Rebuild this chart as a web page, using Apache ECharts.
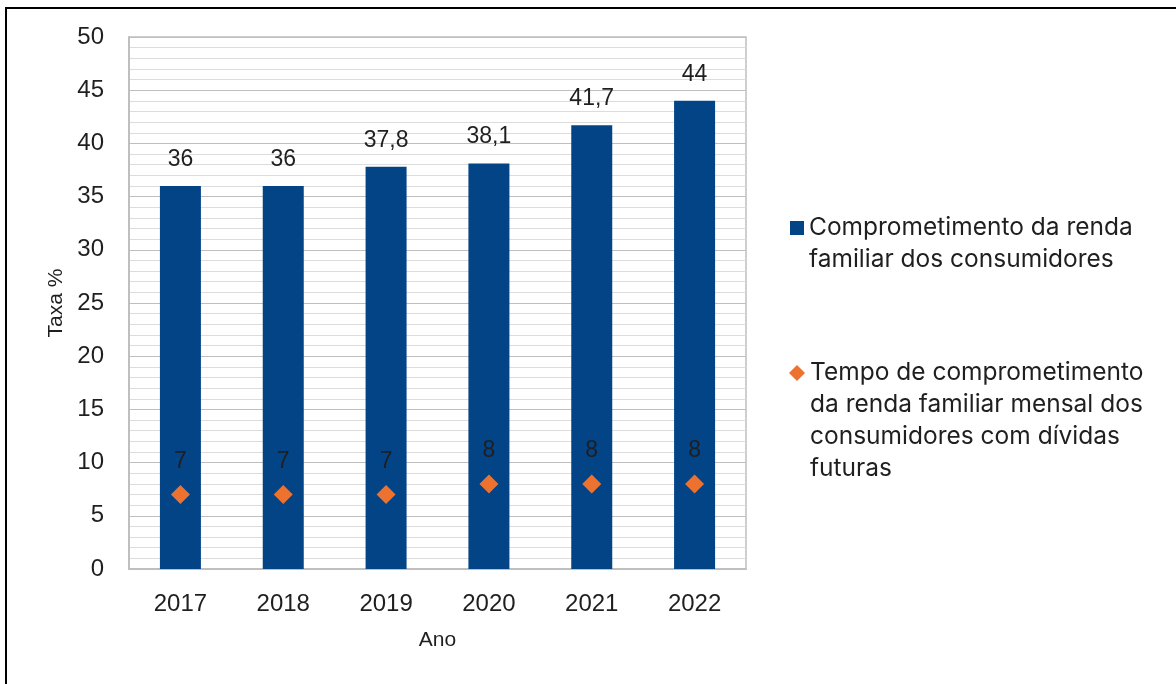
<!DOCTYPE html>
<html>
<head>
<meta charset="utf-8">
<script src="https://cdn.jsdelivr.net/npm/echarts@6/dist/echarts.min.js"></script>
<style>
html,body{margin:0;padding:0;background:#fff;}
#main{width:1176px;height:684px;}
</style>
</head>
<body>
<div id="main"></div>
<script>
// dados
const anos = ['2017', '2018', '2019', '2020', '2021', '2022'];
const renda = [36, 36, 37.8, 38.1, 41.7, 44];
const tempo = [7, 7, 7, 8, 8, 8];
const nomeRenda = 'Comprometimento da renda\nfamiliar dos consumidores';
const nomeTempo = 'Tempo de comprometimento\nda renda familiar mensal dos\nconsumidores com dívidas\nfuturas';

const fonte = '"Liberation Sans", Arial, sans-serif';
const corTexto = '#1f1f1f';
const virgula = v => String(v).replace('.', ',');
// linhas vazias antes do texto para o ícone ficar na primeira linha
const legendaTexto = nome => '\n'.repeat(nome.split('\n').length - 1) + nome;

const myChart = echarts.init(document.getElementById('main'));
myChart.setOption({
  animation: false,
  textStyle: { fontFamily: fonte },
  graphic: [{
    type: 'rect',
    shape: { x: 6, y: 8, width: 1400, height: 1000 },
    style: { fill: 'none', stroke: '#000', lineWidth: 2 }
  }],
  grid: {
    left: 129, right: 430, top: 37, bottom: 115,
    show: true, borderColor: '#bfbfbf', borderWidth: 1.5
  },
  legend: [{
    data: [{ name: nomeRenda, icon: 'rect' }],
    left: 785, top: 175,
    itemWidth: 14, itemHeight: 14,
    formatter: legendaTexto,
    textStyle: { fontFamily: 'Inter, sans-serif', fontSize: 24.5, color: corTexto, lineHeight: 32 }
  }, {
    data: [{ name: nomeTempo, icon: 'diamond' }],
    left: 784, top: 256,
    itemWidth: 16, itemHeight: 16,
    formatter: legendaTexto,
    textStyle: { fontFamily: 'Inter, sans-serif', fontSize: 24.5, color: corTexto, lineHeight: 32 }
  }],
  xAxis: {
    type: 'category',
    data: anos,
    name: 'Ano',
    nameLocation: 'middle',
    nameGap: 61,
    nameTextStyle: { fontSize: 21, color: corTexto },
    axisLine: { lineStyle: { color: '#bfbfbf', width: 2 } },
    axisTick: { show: false },
    axisLabel: { fontSize: 24, color: corTexto, margin: 23 }
  },
  yAxis: {
    type: 'value',
    min: 0, max: 50, interval: 5,
    name: 'Taxa %',
    nameLocation: 'middle',
    nameGap: 61,
    nameTextStyle: { fontSize: 21, color: corTexto },
    axisLine: { show: true, lineStyle: { color: '#bfbfbf', width: 2 } },
    axisTick: { show: false },
    axisLabel: { fontSize: 24, color: corTexto, margin: 25 },
    splitLine: { lineStyle: { color: '#bfbfbf', width: 1.2 } },
    minorSplitLine: { show: true, lineStyle: { color: '#dcdcdc', width: 1.2 } },
    minorTick: { show: false, splitNumber: 5 }
  },
  series: [{
    name: nomeRenda,
    type: 'bar',
    data: renda,
    barWidth: 41,
    itemStyle: { color: '#034487' },
    label: {
      show: true, position: 'top', distance: 15,
      fontSize: 23, color: corTexto,
      formatter: p => virgula(p.value)
    }
  }, {
    name: nomeTempo,
    type: 'scatter',
    data: tempo,
    symbol: 'diamond',
    symbolSize: 19,
    itemStyle: { color: '#ed7230', opacity: 1 },
    label: {
      show: true, position: 'top', distance: 12,
      fontSize: 23, color: corTexto,
      formatter: p => virgula(p.value)
    }
  }]
});
</script>
</body>
</html>
